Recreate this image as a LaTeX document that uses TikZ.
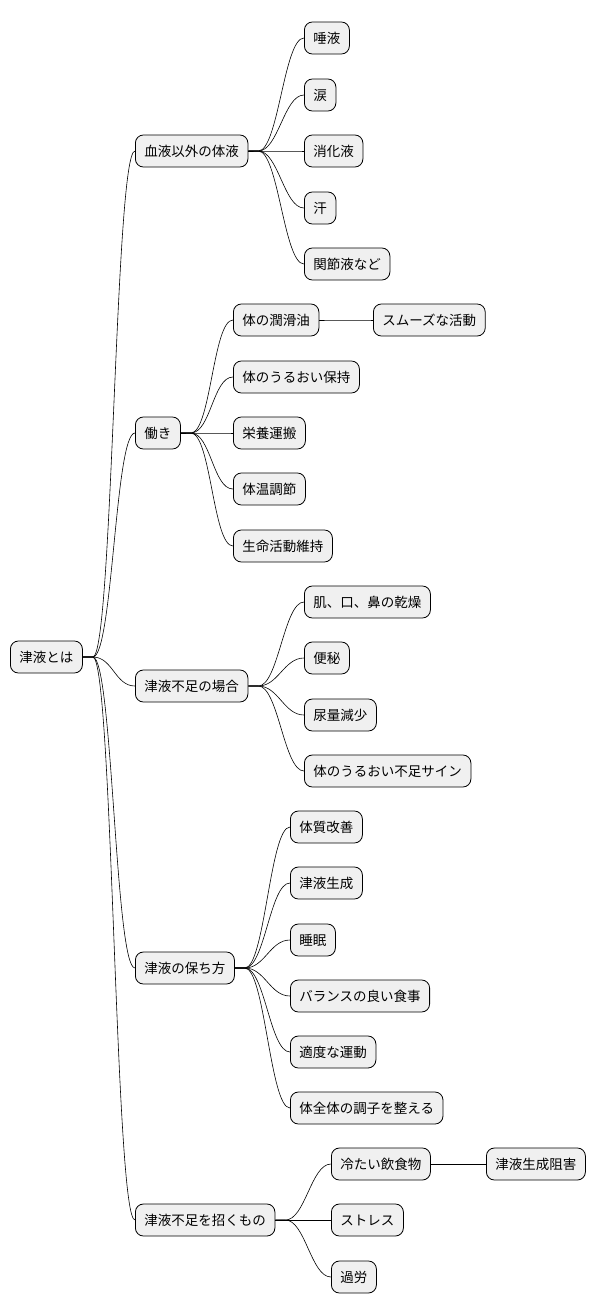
\documentclass[tikz,border=0pt]{standalone}
\usepackage{fontspec}
\setmainfont{Noto Sans CJK JP}
\begin{document}
\begin{tikzpicture}[x=1pt,y=-1pt,
  mm/.style={draw=black,fill=black!6,rounded corners=8pt,minimum height=32pt,inner xsep=9pt,anchor=west,font=\fontsize{13.5pt}{16pt}\selectfont,line width=0.8pt},
  ln/.style={line width=0.6pt}]
\useasboundingbox (0,0) rectangle (600,1315);
\node[mm] (r) at (10,657) {津液とは};
\node[mm] (a) at (135,151) {血液以外の体液};
\node[mm] (b) at (135,433) {働き};
\node[mm] (c) at (135,686) {津液不足の場合};
\node[mm] (d) at (135,968) {津液の保ち方};
\node[mm] (e) at (135,1220) {津液不足を招くもの};
\node[mm] (a1) at (304,38) {唾液};
\node[mm] (a2) at (304,95) {涙};
\node[mm] (a3) at (304,151) {消化液};
\node[mm] (a4) at (304,208) {汗};
\node[mm] (a5) at (304,264) {関節液など};
\node[mm] (b1) at (233,320) {体の潤滑油};
\node[mm] (b1a) at (373,320) {スムーズな活動};
\node[mm] (b2) at (233,377) {体のうるおい保持};
\node[mm] (b3) at (233,433) {栄養運搬};
\node[mm] (b4) at (233,489) {体温調節};
\node[mm] (b5) at (233,546) {生命活動維持};
\node[mm] (c1) at (304,602) {肌、口、鼻の乾燥};
\node[mm] (c2) at (304,658) {便秘};
\node[mm] (c3) at (304,715) {尿量減少};
\node[mm] (c4) at (304,771) {体のうるおい不足サイン};
\node[mm] (d1) at (290,827) {体質改善};
\node[mm] (d2) at (290,883) {津液生成};
\node[mm] (d3) at (290,940) {睡眠};
\node[mm] (d4) at (290,996) {バランスの良い食事};
\node[mm] (d5) at (290,1052) {適度な運動};
\node[mm] (d6) at (290,1108) {体全体の調子を整える};
\node[mm] (e1) at (331,1164) {冷たい飲食物};
\node[mm] (e1a) at (486,1164) {津液生成阻害};
\node[mm] (e2) at (331,1220) {ストレス};
\node[mm] (e3) at (331,1277) {過労};
\foreach \p/\c in {r/a,r/b,r/c,r/d,r/e,a/a1,a/a2,a/a3,a/a4,a/a5,b/b1,b/b2,b/b3,b/b4,b/b5,b1/b1a,c/c1,c/c2,c/c3,c/c4,d/d1,d/d2,d/d3,d/d4,d/d5,d/d6,e/e1,e/e2,e/e3,e1/e1a}
  \draw[ln] (\p.east) -- ++(10,0) .. controls +(20,0) and +(-20,0) .. (\c.west);
\end{tikzpicture}
\end{document}
